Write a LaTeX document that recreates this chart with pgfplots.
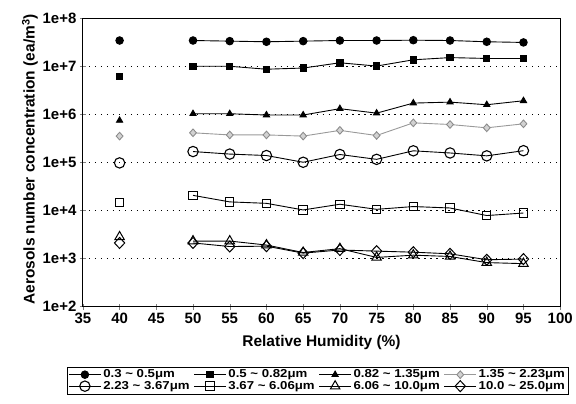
\documentclass[border=0pt]{standalone}
\usepackage{pgfplots}
\pgfplotsset{compat=1.18}
\usepackage{fontspec}
\setmainfont{Liberation Sans}
\newfontfamily\legfont[FakeStretch=1.15]{Liberation Sans}
\begin{document}
\begin{tikzpicture}
\path (-83pt,-97pt) rectangle (493pt,307pt);
\begin{axis}[
  at={(0pt,0pt)}, anchor=south west,
  scale only axis, width=478pt, height=289pt,
  ymode=log, log basis y=10,
  xmin=35, xmax=100, ymin=1e2, ymax=1e8,
  xtick={35,40,...,100},
  ytick={1e2,1e3,1e4,1e5,1e6,1e7,1e8},
  yticklabels={1e+2,1e+3,1e+4,1e+5,1e+6,1e+7,1e+8},
  minor ytick={}, yminorticks=false,
  tick pos=left, tick align=center, major tick length=6pt,
  tick label style={font=\fontsize{15}{17}\selectfont\bfseries},
  /pgf/number format/assume math mode=true,
  ymajorgrids, grid style={black, line width=0.9pt, dash pattern=on 1.2pt off 4.8pt},
  axis line style={line width=0.9pt},
  xlabel={Relative Humidity (\%)},
  ylabel={Aerosols number concentration (ea/m\textsuperscript{3})},
  every axis label/.append style={font=\fontsize{15.5}{17}\selectfont\bfseries},
  xlabel style={at={(axis description cs:0.5,0)}, anchor=center, yshift=-36pt},
  ylabel style={at={(axis description cs:0,0.51)}, anchor=center, yshift=53pt},
  unbounded coords=jump,
  every axis plot/.append style={line width=0.9pt},
  legend columns=4,
  legend style={at={(axis description cs:0.492,-0.256)}, anchor=center,
    draw=black, line width=0.8pt, inner xsep=1pt, inner ysep=1pt,
    font=\legfont\fontsize{11.5}{12}\selectfont\bfseries,
    row sep=-2pt,
    /tikz/every even column/.append style={column sep=2pt}},
  legend cell align=left,
  legend image code/.code={\draw[mark repeat=2,mark phase=2] plot coordinates {(0pt,0pt) (16pt,0pt) (32pt,0pt)};},
]
% 0.3-0.5 filled circle
\addplot[black, mark=*, mark size=3.8pt] coordinates {
(40,3.4e7) (45,nan) (50,3.4e7) (55,3.3e7) (60,3.2e7) (65,3.3e7) (70,3.4e7) (75,3.4e7) (80,3.45e7) (85,3.4e7) (90,3.2e7) (95,3.1e7)};
\addlegendentry{0.3 \char"007E{} 0.5μm}
% 0.5-0.82 filled square
\addplot[black, mark=square*, mark size=3.2pt] coordinates {
(40,6.1e6) (45,nan) (50,9.9e6) (55,9.9e6) (60,8.6e6) (65,9.1e6) (70,1.17e7) (75,1.0e7) (80,1.35e7) (85,1.5e7) (90,1.44e7) (95,1.44e7)};
\addlegendentry{0.5 \char"007E{} 0.82μm}
% 0.82-1.35 filled triangle
\addplot[black, mark=triangle*, mark size=3.6pt] coordinates {
(40,7.4e5) (45,nan) (50,1.02e6) (55,1.02e6) (60,9.6e5) (65,9.6e5) (70,1.3e6) (75,1.05e6) (80,1.7e6) (85,1.78e6) (90,1.57e6) (95,1.9e6)};
\addlegendentry{0.82 \char"007E{} 1.35μm}
% 1.35-2.23 gray diamond
\addplot[gray!80, mark=diamond*, mark size=3.8pt, mark options={fill=gray!35, draw=gray!90, xscale=1.2}] coordinates {
(40,3.5e5) (45,nan) (50,4.1e5) (55,3.7e5) (60,3.7e5) (65,3.5e5) (70,4.6e5) (75,3.6e5) (80,6.6e5) (85,6.1e5) (90,5.2e5) (95,6.3e5)};
\addlegendentry{1.35 \char"007E{} 2.23μm}
% 2.23-3.67 open circle
\addplot[black, mark=o, mark size=5.2pt, mark options={line width=1.1pt}] coordinates {
(40,9.7e4) (45,nan) (50,1.67e5) (55,1.48e5) (60,1.38e5) (65,1.0e5) (70,1.45e5) (75,1.15e5) (80,1.73e5) (85,1.56e5) (90,1.36e5) (95,1.74e5)};
\addlegendentry{2.23 \char"007E{} 3.67μm}
% 3.67-6.06 open square
\addplot[black, mark=square, mark size=4.2pt, mark options={line width=1.0pt}] coordinates {
(40,1.44e4) (45,nan) (50,2.05e4) (55,1.5e4) (60,1.4e4) (65,1.02e4) (70,1.34e4) (75,1.05e4) (80,1.2e4) (85,1.12e4) (90,7.8e3) (95,8.8e3)};
\addlegendentry{3.67 \char"007E{} 6.06μm}
% 6.06-10 open triangle
\addplot[black, mark=triangle, mark size=5.5pt, mark options={line width=1.0pt}] coordinates {
(40,2.8e3) (45,nan) (50,2.3e3) (55,2.3e3) (60,1.9e3) (65,1.33e3) (70,1.6e3) (75,1.05e3) (80,1.17e3) (85,1.1e3) (90,8.2e2) (95,7.8e2)};
\addlegendentry{6.06 \char"007E{} 10.0μm}
% 10-25 open diamond
\addplot[black, mark=diamond, mark size=5.5pt, mark options={line width=1.0pt, xscale=1.25}] coordinates {
(40,2.1e3) (45,nan) (50,2.1e3) (55,1.77e3) (60,1.8e3) (65,1.29e3) (70,1.5e3) (75,1.42e3) (80,1.35e3) (85,1.25e3) (90,9.4e2) (95,9.7e2)};
\addlegendentry{10.0 \char"007E{} 25.0μm}
\end{axis}
\end{tikzpicture}
\end{document}
